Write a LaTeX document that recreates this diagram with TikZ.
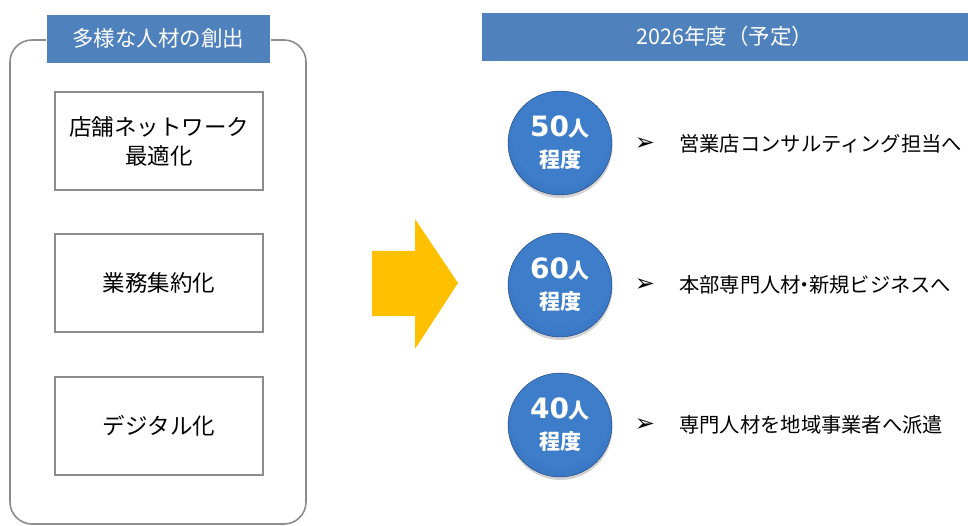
\documentclass[tikz,border=0pt]{standalone}
\usepackage{fontspec}
\setmainfont{Noto Sans CJK JP}
\newfontfamily\symfont{DejaVu Sans}
\newfontfamily\digfont{DejaVu Sans}
\usetikzlibrary{shadows}
\definecolor{hdrblue}{HTML}{4F81BD}
\definecolor{boxgray}{HTML}{8C8C8C}
\definecolor{arrowgold}{HTML}{FFC000}
\definecolor{ballin}{HTML}{3E7DCA}
\definecolor{ballmid}{HTML}{2F69B2}
\definecolor{ballout}{HTML}{1A3F78}
\pgfdeclareradialshading{myball}{\pgfpoint{0bp}{5bp}}{color(0bp)=(ballin); color(22bp)=(ballin); color(40bp)=(ballmid); color(50bp)=(ballout)}
\tikzset{
  hdr/.style={fill=hdrblue, draw=white, line width=0.8pt, text=white, inner sep=0pt, font=\fontsize{21.5}{24}\selectfont},
  itembox/.style={draw=boxgray, line width=1.2pt, fill=white, minimum width=208pt, minimum height=98pt, inner sep=0pt, align=center, font=\fontsize{22.5}{29}\selectfont},
  ballnode/.style={circle, minimum size=104pt, inner sep=0pt, shading=myball, draw=ballout, line width=0.4pt, drop shadow={shadow xshift=0.5pt, shadow yshift=-3pt, fill=black!35}, text=white, align=center, font=\fontsize{20}{31}\selectfont\bfseries},
  itemtext/.style={anchor=west, inner sep=0pt, font=\fontsize{20.3}{24}\selectfont},
  bul/.style={anchor=center, inner sep=0pt, font=\symfont\fontsize{24}{26}\selectfont}
}
\newcommand{\balltext}[1]{{\fontsize{28}{30}\selectfont\digfont\bfseries #1}{\fontsize{21}{22}\selectfont\bfseries 人}\\{\fontsize{21}{22}\selectfont\bfseries 程度}}
\begin{document}
\begin{tikzpicture}[x=1pt, y=-1pt]
\useasboundingbox (0,0) rectangle (968,526);
% left frame
\draw[boxgray, line width=1.6pt, rounded corners=22pt] (10,40) rectangle (306,524);
\node[hdr, minimum width=224pt, minimum height=49pt] (lhdr) at (158,38.5) {多様な人材の創出};
\node[itembox] (b1) at (159,141) {店舗ネットワーク\\最適化};
\node[itembox] (b2) at (159,283) {業務集約化};
\node[itembox] (b3) at (159,426) {デジタル化};
% arrow
\fill[arrowgold] (372,251) -- (415,251) -- (415,219) -- (458,283) -- (415,349) -- (415,316) -- (372,316) -- cycle;
% right header
\node[hdr, minimum width=488pt, minimum height=49pt] (rhdr) at (725,36.5) {2026年度（予定）};
% balls
\node[ballnode] (c1) at (560,143) {\balltext{50}};
\node[ballnode] (c2) at (560,285) {\balltext{60}};
\node[ballnode] (c3) at (560,425) {\balltext{40}};
% bullets and texts
\node[bul] (k1) at (645,144) {➢};
\node[itemtext] (t1) at (679,144) {営業店コンサルティング担当へ};
\node[bul] (k2) at (645,285) {➢};
\node[itemtext] (t2) at (679,285) {本部専門人材{\kern-0.3em・\kern-0.3em}新規ビジネスへ};
\node[bul] (k3) at (645,425) {➢};
\node[itemtext] (t3) at (679,425) {専門人材を地域事業者へ派遣};
\end{tikzpicture}
\end{document}
